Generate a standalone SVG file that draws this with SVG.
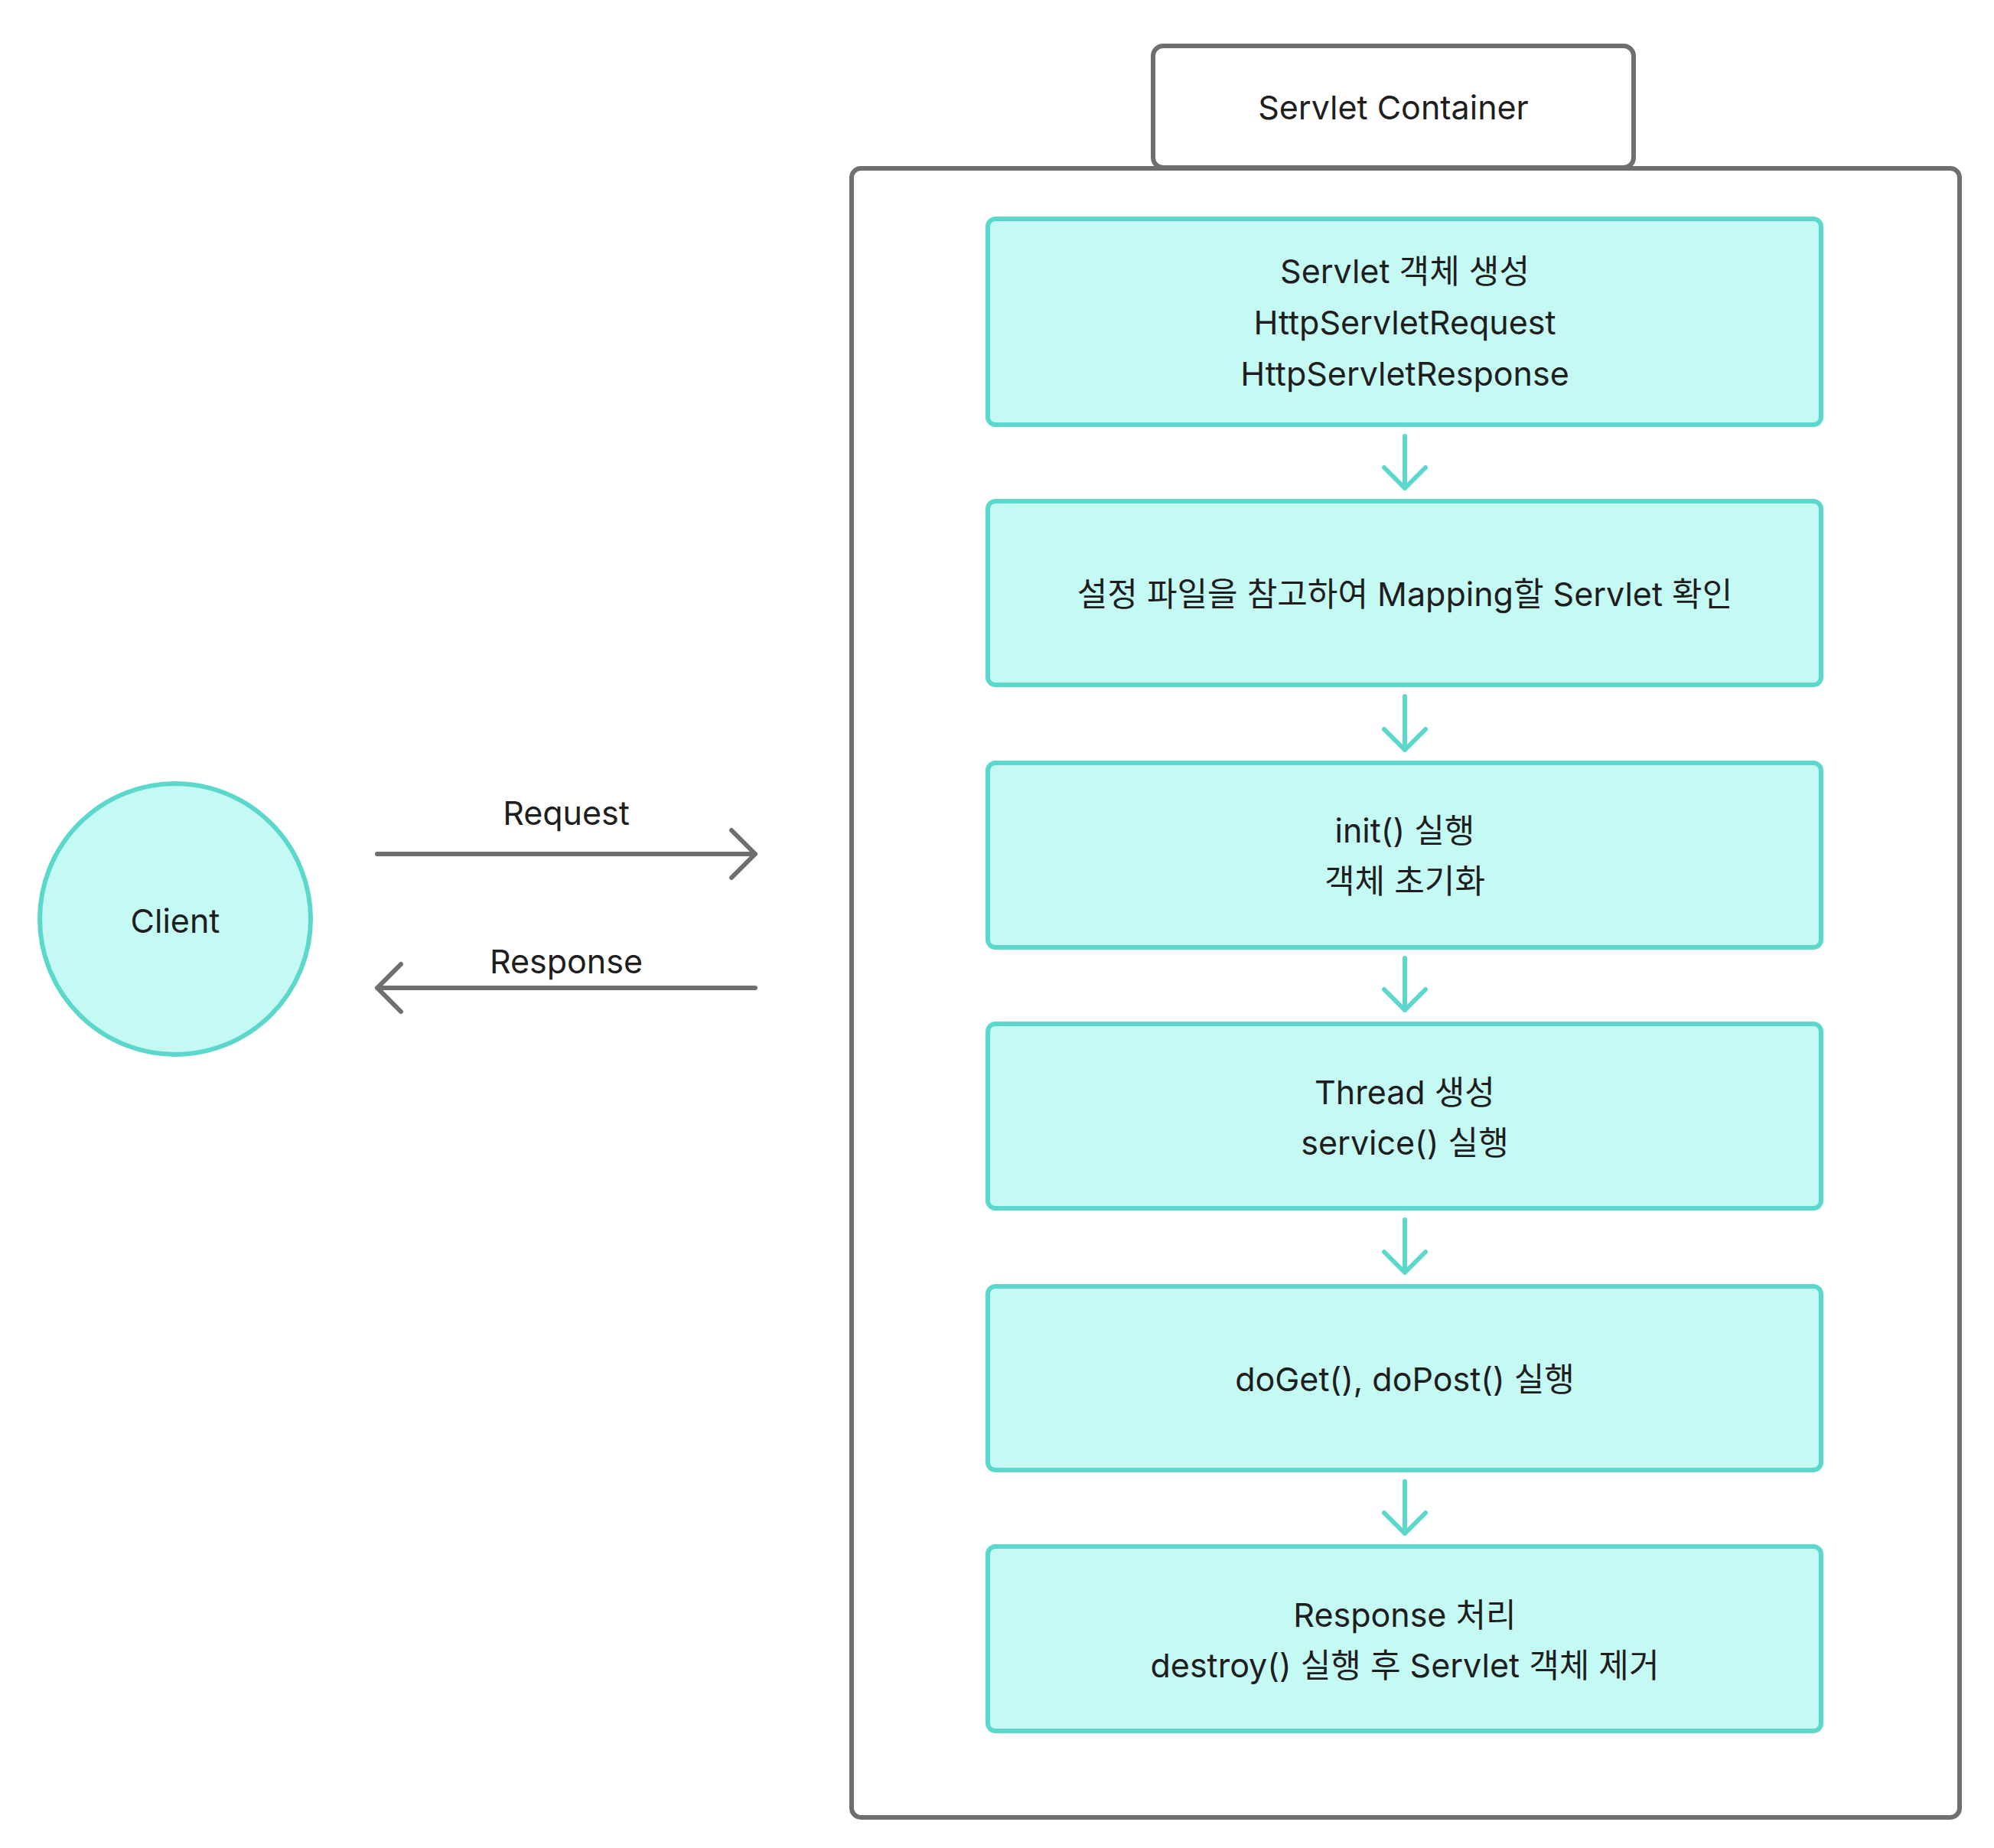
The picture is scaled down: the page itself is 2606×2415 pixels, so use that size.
<svg xmlns="http://www.w3.org/2000/svg" width="2606" height="2415" viewBox="0 0 2606 2415">
<style>
text{font-family:Inter,"Noto Sans","Noto Sans CJK KR",sans-serif;font-size:43px;fill:#1e1e1e;text-anchor:middle;dominant-baseline:central}
.node{fill:#C5F9F3;stroke:#5BD8CB;stroke-width:6}
.g{fill:none;stroke:#6f6f6f;stroke-width:6;stroke-linecap:round;stroke-linejoin:round}
.t{fill:none;stroke:#5BD8CB;stroke-width:6;stroke-linecap:round;stroke-linejoin:round}
</style>
<rect width="2606" height="2415" fill="#fff"/>
<g id="container">
<rect x="1113" y="220" width="1448" height="2155" rx="12" fill="#fff" stroke="#6f6f6f" stroke-width="6"/>
<rect x="1507" y="60" width="628" height="159" rx="13" fill="#fff" stroke="#6f6f6f" stroke-width="6"/>
<text x="1821" y="140">Servlet Container</text>
</g>
<g id="client">
<circle cx="229" cy="1201" r="177" class="node"/>
<text x="229" y="1203">Client</text>
</g>
<g id="n1"><rect x="1291" y="286" width="1089" height="269" rx="10" class="node"/>
<text x="1836" y="354">Servlet 객체 생성</text><text x="1836" y="421">HttpServletRequest</text><text x="1836" y="488">HttpServletResponse</text></g>
<g id="n2"><rect x="1291" y="655" width="1089" height="240" rx="10" class="node"/>
<text x="1836" y="776">설정 파일을 참고하여 Mapping할 Servlet 확인</text></g>
<g id="n3"><rect x="1291" y="997" width="1089" height="241" rx="10" class="node"/>
<text x="1836" y="1085">init() 실행</text><text x="1836" y="1151">객체 초기화</text></g>
<g id="n4"><rect x="1291" y="1338" width="1089" height="241" rx="10" class="node"/>
<text x="1836" y="1427">Thread 생성</text><text x="1836" y="1493">service() 실행</text></g>
<g id="n5"><rect x="1291" y="1681" width="1089" height="240" rx="10" class="node"/>
<text x="1836" y="1802">doGet(), doPost() 실행</text></g>
<g id="n6"><rect x="1291" y="2021" width="1089" height="241" rx="10" class="node"/>
<text x="1836" y="2110">Response 처리</text><text x="1836" y="2176">destroy() 실행 후 Servlet 객체 제거</text></g>
<g id="connectors">
<path class="t" d="M1836 570V638M1809 611L1836 638L1863 611"/>
<path class="t" d="M1836 910V980M1809 953L1836 980L1863 953"/>
<path class="t" d="M1836 1252V1320M1809 1293L1836 1320L1863 1293"/>
<path class="t" d="M1836 1594V1663M1809 1636L1836 1663L1863 1636"/>
<path class="t" d="M1836 1936V2004M1809 1977L1836 2004L1863 1977"/>
<path class="g" d="M493 1116H987M956 1085L987 1116L956 1147"/>
<path class="g" d="M987 1291H493M524 1260L493 1291L524 1322"/>
<text x="740" y="1062">Request</text>
<text x="740" y="1256">Response</text>
</g>
</svg>
